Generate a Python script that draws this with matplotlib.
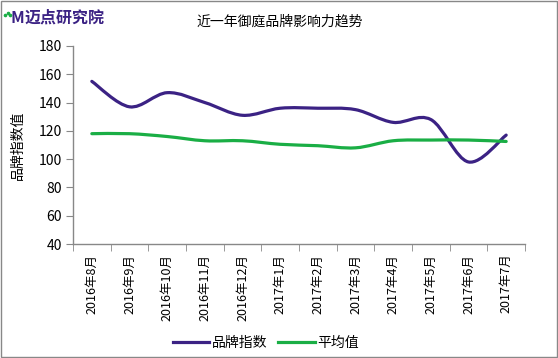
import matplotlib
matplotlib.use("Agg")
import matplotlib.pyplot as plt
from matplotlib.path import Path
from matplotlib.patches import PathPatch, Rectangle
from matplotlib.lines import Line2D
import numpy as np

plt.rcParams['font.family'] = ['Noto Sans CJK SC', 'DejaVu Sans']

categories = ["2016年8月", "2016年9月", "2016年10月", "2016年11月", "2016年12月",
              "2017年1月", "2017年2月", "2017年3月", "2017年4月", "2017年5月",
              "2017年6月", "2017年7月"]
brand_index = [155, 137, 147, 140, 131, 136, 136, 135, 126, 128, 98, 117]
average = [118, 118, 116, 113, 113, 110.5, 109.5, 108, 113, 113.5, 113.5, 112.5]
yticks = [40, 60, 80, 100, 120, 140, 160, 180]

title = "近一年御庭品牌影响力趋势"
ylabel = "品牌指数值"
series_names = ["品牌指数", "平均值"]
purple = "#3B2284"
green = "#1AAE45"


def smooth_path(xs, ys, t=1/6):
    xs = np.asarray(xs, float); ys = np.asarray(ys, float)
    n = len(xs)
    verts = [(xs[0], ys[0])]
    codes = [Path.MOVETO]
    for i in range(n - 1):
        p0 = np.array([xs[max(i - 1, 0)], ys[max(i - 1, 0)]])
        p1 = np.array([xs[i], ys[i]])
        p2 = np.array([xs[i + 1], ys[i + 1]])
        p3 = np.array([xs[min(i + 2, n - 1)], ys[min(i + 2, n - 1)]])
        c1 = p1 + (p2 - p0) * t
        c2 = p2 - (p3 - p1) * t
        verts += [tuple(c1), tuple(c2), tuple(p2)]
        codes += [Path.CURVE4] * 3
    return Path(verts, codes)


fig = plt.figure(figsize=(5.58, 3.58), dpi=100)
ax = fig.add_axes([73/558, 1 - 244/358, (525 - 73)/558, (244 - 46)/358])

x = np.arange(len(categories))
for ys, col in [(brand_index, purple), (average, green)]:
    p = smooth_path(x, ys)
    ax.add_patch(PathPatch(p, facecolor='none', edgecolor=col, lw=2.3,
                           capstyle='round', joinstyle='round'))

ax.set_xlim(-0.5, len(categories) - 0.5)
ax.set_ylim(40, 180)
ax.set_yticks(yticks)
ax.set_yticklabels([str(v) for v in yticks], fontsize=10)
ax.set_xticks(x)
ax.set_xticklabels(categories, rotation=90, fontsize=9)
ax.set_xticks(np.arange(-0.5, len(categories)), minor=True)
ax.tick_params(axis='x', which='major', length=0, pad=7)
ax.tick_params(axis='x', which='minor', length=5, color='#888888', direction='out')
ax.tick_params(axis='y', length=5, color='#888888', direction='out', pad=3)
for s in ['top', 'right']:
    ax.spines[s].set_visible(False)
for s in ['left', 'bottom']:
    ax.spines[s].set_color('#888888')
    ax.spines[s].set_linewidth(1)

ax.set_ylabel(ylabel, fontsize=10)
ax.yaxis.set_label_coords(-48/452, 0.5)

fig.text(280/558, 1 - 22/358, title, ha='center', va='center', fontsize=10)

# logo
fig.text(10/558, 1 - 18/358, "M", color='#3B2284', fontsize=11.5, fontweight='bold',
         ha='left', va='center')
fig.text(25/558, 1 - 18/358, "迈点研究院", color='#3B2284', fontsize=11.5,
         fontweight='bold', ha='left', va='center')
fig.add_artist(Line2D([5/558, 7.5/558, 10/558], [1 - 15/358, 1 - 13/358, 1 - 15/358],
                      transform=fig.transFigure, ls='none', marker='o', ms=1.6,
                      color=green))

handles = [Line2D([], [], color=purple, lw=2.3), Line2D([], [], color=green, lw=2.3)]
fig.legend(handles, series_names, loc='center', bbox_to_anchor=(266/558, 1 - 343/358),
           ncol=2, frameon=False, fontsize=10, handlelength=2.6, handletextpad=0.2,
           columnspacing=0.8)

fig.patches.append(Rectangle((1/558, 1/358), 556/558, 356/358, transform=fig.transFigure,
                             fill=False, edgecolor='#888888', lw=1))

fig.savefig("out.png", dpi=100)
